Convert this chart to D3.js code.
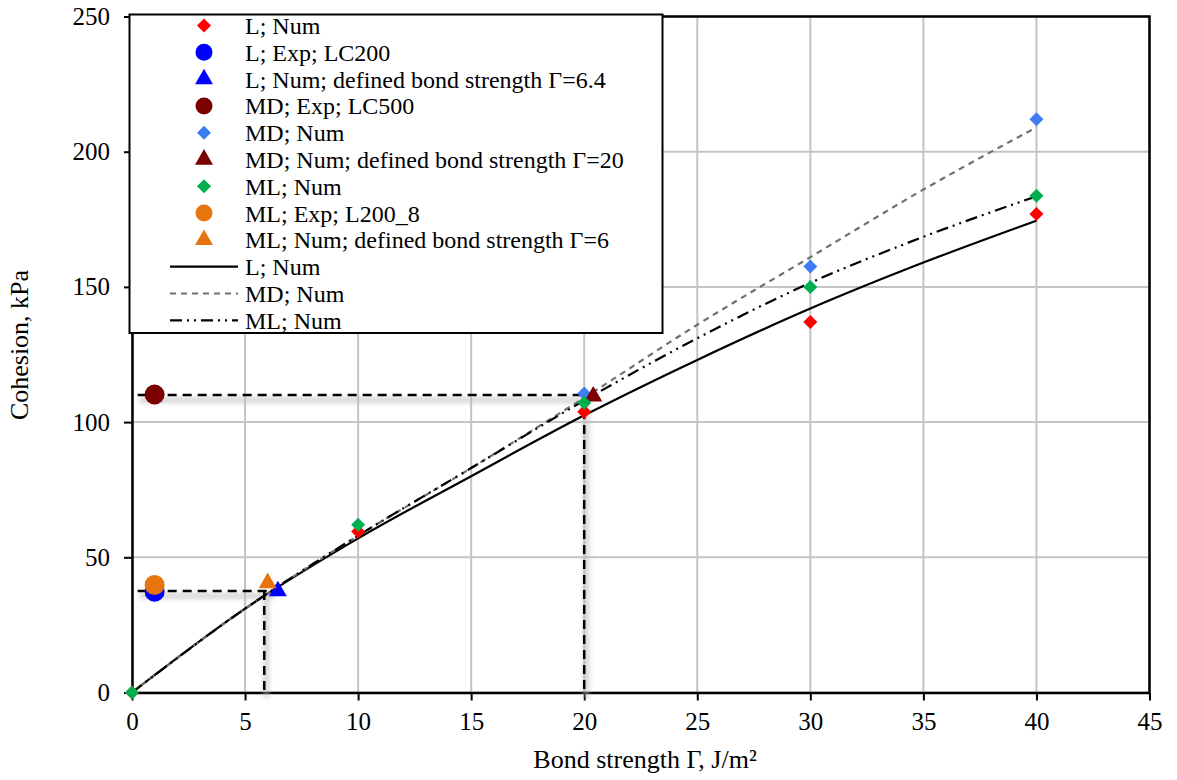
<!DOCTYPE html>
<html><head><meta charset="utf-8">
<script src="https://cdn.jsdelivr.net/npm/d3@7"></script>
<style>
html,body{margin:0;padding:0;background:#fff;}
svg{display:block;font-family:"Liberation Serif","Times New Roman",serif;}
</style></head>
<body>
<svg id="chart" width="1177" height="780"></svg>
<script>
// ---- data ----
const xTicks = [0,5,10,15,20,25,30,35,40,45];
const yTicks = [0,50,100,150,200,250];

// trend curves (sampled along x)
const curveX  = [0,5,10,15,20,25,30,35,40];
const curveL  = [0,31,57,80,102.5,123,142,159,174.5];
const curveMD = [0,31,58,83,109,136,161,186,209];
const curveML = [0,31,58,83,108,131,151.5,168.5,183.5];

// point series
const lNumX = [0,10,20,30,40];      const lNumY = [0,59.5,103.8,137,177];
const lExpX = [1];                  const lExpY = [37.3];
const lDefX = [6.45];               const lDefY = [37.5];
const mdExpX = [1];                 const mdExpY = [110.2];
const mdNumX = [20,30,40];          const mdNumY = [110.6,157.5,212];
const mdDefX = [20.4];              const mdDefY = [109.5];
const mlNumX = [0,10,20,30,40];     const mlNumY = [0,62,107.2,150,183.7];
const mlExpX = [1];                 const mlExpY = [39.8];
const mlDefX = [6];                 const mlDefY = [40.5];

// dashed guide lines [x1,y1,x2,y2]
const guides = [
  [0.25,37.5,6.2,37.5],
  [5.85,37.5,5.85,0],
  [0.25,110,20,110],
  [20,110,20,0]
];

const legendLabels = [
  "L; Num","L; Exp; LC200","L; Num; defined bond strength Γ=6.4",
  "MD; Exp; LC500","MD; Num","MD; Num; defined bond strength Γ=20",
  "ML; Num","ML; Exp; L200_8","ML; Num; defined bond strength Γ=6",
  "L; Num","MD; Num","ML; Num"
];

// ---- drawing ----
const svg = d3.select("#chart");
const L = 132, R = 1149.5, T = 16.5, B = 692.5;
const x = d3.scaleLinear().domain([0,45]).range([L,R]);
const y = d3.scaleLinear().domain([0,250]).range([B,T]);

const defs = svg.append("defs");
const f = defs.append("filter").attr("id","shadow").attr("filterUnits","userSpaceOnUse")
  .attr("x",0).attr("y",0).attr("width",1177).attr("height",780);
f.append("feGaussianBlur").attr("stdDeviation",2.5);

// gridlines
svg.append("g").selectAll("line").data(xTicks).join("line")
  .attr("x1",d=>x(d)).attr("x2",d=>x(d)).attr("y1",T).attr("y2",B)
  .attr("stroke","#c4c4c4").attr("stroke-width",2);
svg.append("g").selectAll("line").data(yTicks).join("line")
  .attr("x1",L).attr("x2",R).attr("y1",d=>y(d)).attr("y2",d=>y(d))
  .attr("stroke","#c4c4c4").attr("stroke-width",2);

// axes
const xAxis = d3.axisBottom(x).tickValues(xTicks).tickSize(8).tickSizeOuter(0).tickPadding(12);
const yAxis = d3.axisLeft(y).tickValues(yTicks).tickSize(8).tickSizeOuter(0).tickPadding(14);
const gx = svg.append("g").attr("transform",`translate(0,${B})`).call(xAxis);
const gy = svg.append("g").attr("transform",`translate(${L},0)`).call(yAxis);
[gx,gy].forEach(g=>{
  g.attr("font-family",null).attr("font-size",null);
  g.select(".domain").attr("stroke","#000").attr("stroke-width",2.5);
  g.selectAll(".tick line").attr("stroke","#000").attr("stroke-width",2);
  g.selectAll(".tick text").style("font-family","'Liberation Serif'").style("font-size","25px").attr("fill","#000");
});
// frame top/right
svg.append("path").attr("d",`M${L},${T}H${R}V${B}`).attr("fill","none").attr("stroke","#000").attr("stroke-width",2.5);

// guide shadows and guides
const gGuide = svg.append("g");
gGuide.selectAll("line.sh").data(guides).join("line").attr("class","sh")
  .attr("x1",d=>x(d[0])+2).attr("y1",d=>y(d[1])+5).attr("x2",d=>x(d[2])+2).attr("y2",d=>y(d[3])+5)
  .attr("stroke","#b8b8b8").attr("stroke-width",5).attr("opacity",0.7).attr("filter","url(#shadow)");
gGuide.selectAll("line.g").data(guides).join("line").attr("class","g")
  .attr("x1",d=>x(d[0])).attr("y1",d=>y(d[1])).attr("x2",d=>x(d[2])).attr("y2",d=>y(d[3]))
  .attr("stroke","#000").attr("stroke-width",2.5).attr("stroke-dasharray","9,6");

// curves
const line = d3.line().x(d=>x(d[0])).y(d=>y(d[1])).curve(d3.curveMonotoneX);
const zip = (a,b)=>a.map((v,i)=>[v,b[i]]);
const curveStyles = [
  {vals:curveL, stroke:"#000", dash:null, w:2.2},
  {vals:curveMD, stroke:"#707070", dash:"6,5", w:2.2},
  {vals:curveML, stroke:"#000", dash:"12,5,2,5,2,5", w:2.2}
];
curveStyles.forEach(c=>{
  svg.append("path").attr("d",line(zip(curveX,c.vals))).attr("fill","none")
    .attr("stroke",c.stroke).attr("stroke-width",c.w).attr("stroke-dasharray",c.dash);
});

// marker helpers
function diamondPath(s){ return `M0,${-s}L${s},0L0,${s}L${-s},0Z`; }
const circlePath = d3.symbol().type(d3.symbolCircle).size(Math.PI*100)();
const triPath = d3.symbol().type(d3.symbolTriangle).size(140)();
const shapes = {diamond: diamondPath(7), circle: circlePath, triangle: triPath};
const legendShapes = {diamond: diamondPath(7), circle: d3.symbol().type(d3.symbolCircle).size(Math.PI*72)(), triangle: triPath};

const series = [
  {xs:lNumX, ys:lNumY, shape:"diamond", color:"#ff0000"},
  {xs:lExpX, ys:lExpY, shape:"circle", color:"#0000ff"},
  {xs:lDefX, ys:lDefY, shape:"triangle", color:"#0000ff"},
  {xs:mdExpX, ys:mdExpY, shape:"circle", color:"#7b0000"},
  {xs:mdNumX, ys:mdNumY, shape:"diamond", color:"#3f7df4"},
  {xs:mdDefX, ys:mdDefY, shape:"triangle", color:"#7b0000"},
  {xs:mlNumX, ys:mlNumY, shape:"diamond", color:"#00b050"},
  {xs:mlExpX, ys:mlExpY, shape:"circle", color:"#e8740f"},
  {xs:mlDefX, ys:mlDefY, shape:"triangle", color:"#e8740f"}
];
series.forEach(s=>{
  svg.append("g").selectAll("path").data(zip(s.xs,s.ys)).join("path")
    .attr("d",shapes[s.shape]).attr("fill",s.color)
    .attr("transform",d=>`translate(${x(d[0])},${y(d[1])})`);
});

// legend
const lg = svg.append("g");
lg.append("rect").attr("x",129.5).attr("y",14.5).attr("width",533).attr("height",318.5)
  .attr("fill","#fff").attr("stroke","#000").attr("stroke-width",2);
const rowY = i => 25.5 + i*26.8;
legendLabels.forEach((t,i)=>{
  lg.append("text").attr("x",245).attr("y",rowY(i)).attr("dy","0.35em")
    .attr("font-size",24).attr("fill","#000").text(t);
  if(i<9){
    lg.append("path").attr("d",legendShapes[series[i].shape]).attr("fill",series[i].color)
      .attr("transform",`translate(204,${rowY(i)})`);
  } else {
    const c = curveStyles[i-9];
    lg.append("line").attr("x1",170).attr("x2",238).attr("y1",rowY(i)).attr("y2",rowY(i))
      .attr("stroke",c.stroke).attr("stroke-width",2.2).attr("stroke-dasharray",c.dash);
  }
});

// axis titles
svg.append("text").attr("x",645).attr("y",768).attr("text-anchor","middle")
  .attr("font-size",26).text("Bond strength Γ, J/m²");
svg.append("text").attr("transform","translate(28,345) rotate(-90)").attr("text-anchor","middle")
  .attr("font-size",26).text("Cohesion, kPa");
</script>
</body></html>
